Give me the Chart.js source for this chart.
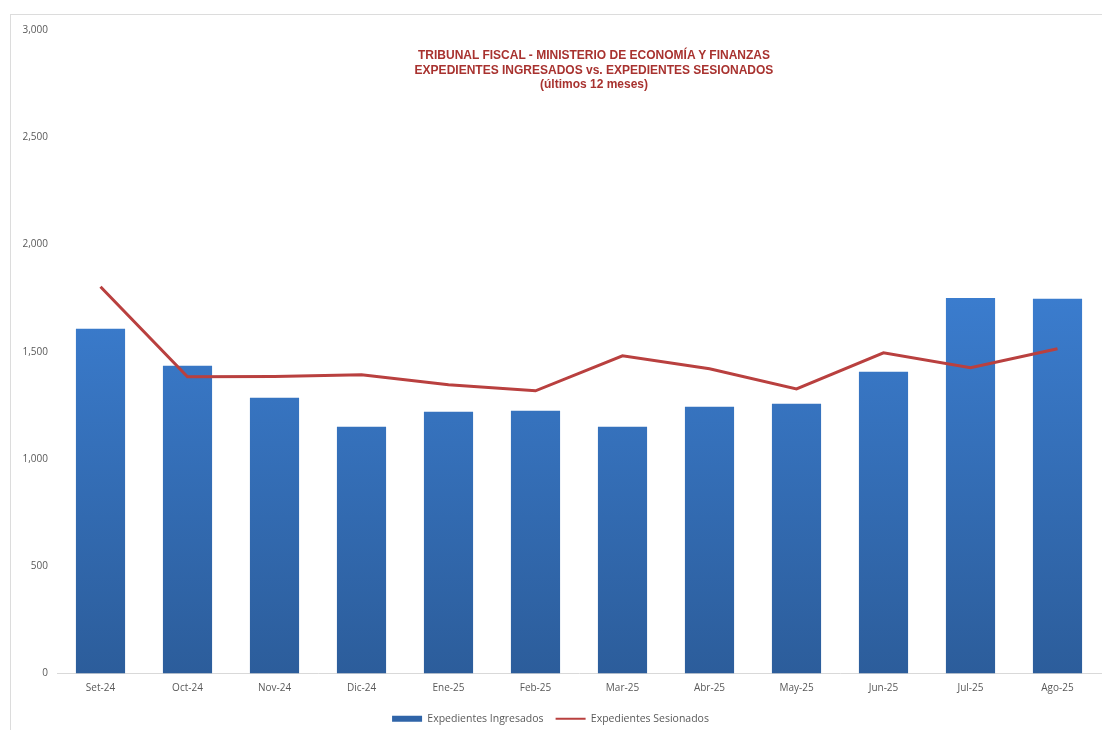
<!DOCTYPE html>
<html>
<head>
<meta charset="utf-8">
<script src="https://cdn.jsdelivr.net/npm/chart.js@4.4.1/dist/chart.umd.min.js"></script>
<style>
  html, body { margin: 0; padding: 0; background: #fff; }
  #wrap { position: relative; width: 1102px; height: 730px; overflow: hidden; }
  #frame { position: absolute; left: 10px; top: 14px; width: 1200px; height: 800px; border: 1px solid #dcdcdc; }
  #myChart { position: absolute; left: 0; top: 0; }
  #title {
    position: absolute; left: 344px; top: 48px; width: 500px; text-align: center;
    font-family: "Liberation Sans", Arial, sans-serif; font-weight: bold; font-size: 12px;
    line-height: 14.5px; color: #a8322f;
  }
</style>
</head>
<body>
<div id="wrap">
  <div id="frame"></div>
  <canvas id="myChart" width="1102" height="730"></canvas>
  <div id="title">TRIBUNAL FISCAL - MINISTERIO DE ECONOMÍA Y FINANZAS<br>EXPEDIENTES INGRESADOS vs. EXPEDIENTES SESIONADOS<br>(últimos 12 meses)</div>
</div>
<script>
var months = ['Set-24','Oct-24','Nov-24','Dic-24','Ene-25','Feb-25','Mar-25','Abr-25','May-25','Jun-25','Jul-25','Ago-25'];
var ingresados = [1607, 1435, 1286, 1150, 1220, 1225, 1150, 1244, 1258, 1407, 1751, 1747];
var sesionados = [1803, 1383, 1385, 1393, 1346, 1318, 1481, 1421, 1327, 1495, 1425, 1514];
var yTicks = [0, 500, 1000, 1500, 2000, 2500, 3000];

var tickFont = { family: '"Open Sans", sans-serif', size: 10 };
var legendFont = { family: '"Open Sans", sans-serif', size: 10.5 };

function barGradient(context) {
    var chart = context.chart;
    var area = chart.chartArea;
    if (!area) return '#3571bb';
    var y = chart.scales.y;
    var g = chart.ctx.createLinearGradient(0, y.getPixelForValue(1800), 0, area.bottom);
    g.addColorStop(0, '#3b7dcf');
    g.addColorStop(1, '#2c5d9b');
    return g;
}

const ctx = document.getElementById('myChart').getContext('2d');
const myChartObj = new Chart(ctx, {
    data: {
        labels: months,
        datasets: [{
            type: 'line',
            label: 'Expedientes Sesionados',
            data: sesionados,
            borderColor: '#b9403f',
            backgroundColor: '#b9403f',
            borderWidth: 3,
            pointRadius: 0,
            tension: 0,
            order: 0
        }, {
            type: 'bar',
            label: 'Expedientes Ingresados',
            data: ingresados,
            backgroundColor: barGradient,
            borderWidth: 0,
            barPercentage: 0.565,
            categoryPercentage: 1,
            order: 1
        }]
    },
    options: {
        responsive: false,
        animation: false,
        layout: { padding: { top: 30, right: 1, left: 0, bottom: -4 } },
        scales: {
            x: {
                grid: { display: false, drawTicks: false },
                border: { display: true, color: '#d9d9d9', width: 1 },
                ticks: { color: '#595959', font: tickFont, padding: 9 },
                afterFit: function(s) { s.height = 28; }
            },
            y: {
                min: 0,
                max: 3000,
                grid: { display: false, drawTicks: false },
                border: { display: false },
                afterBuildTicks: function(s) { s.ticks = yTicks.map(v => ({ value: v })); },
                ticks: {
                    color: '#595959', font: tickFont, padding: 9,
                    callback: v => v.toLocaleString('en-US')
                },
                afterFit: function(s) { s.width = 57; }
            }
        },
        plugins: {
            tooltip: { enabled: false },
            legend: {
                position: 'bottom',
                reverse: true,
                labels: {
                    color: '#595959',
                    font: legendFont,
                    usePointStyle: true,
                    pointStyleWidth: 30,
                    boxWidth: 30,
                    boxHeight: 6,
                    padding: 12,
                    generateLabels: function(chart) {
                        var items = Chart.defaults.plugins.legend.labels.generateLabels(chart);
                        items.forEach(it => {
                            if (it.datasetIndex === 1) {
                                it.pointStyle = 'rect';
                                it.fillStyle = '#2f64a8';
                                it.strokeStyle = '#2f64a8';
                                it.lineWidth = 0;
                            } else {
                                it.pointStyle = 'line';
                                it.strokeStyle = '#b9403f';
                                it.lineWidth = 2;
                            }
                        });
                        return items;
                    }
                }
            }
        }
    }
});
</script>
</body>
</html>
